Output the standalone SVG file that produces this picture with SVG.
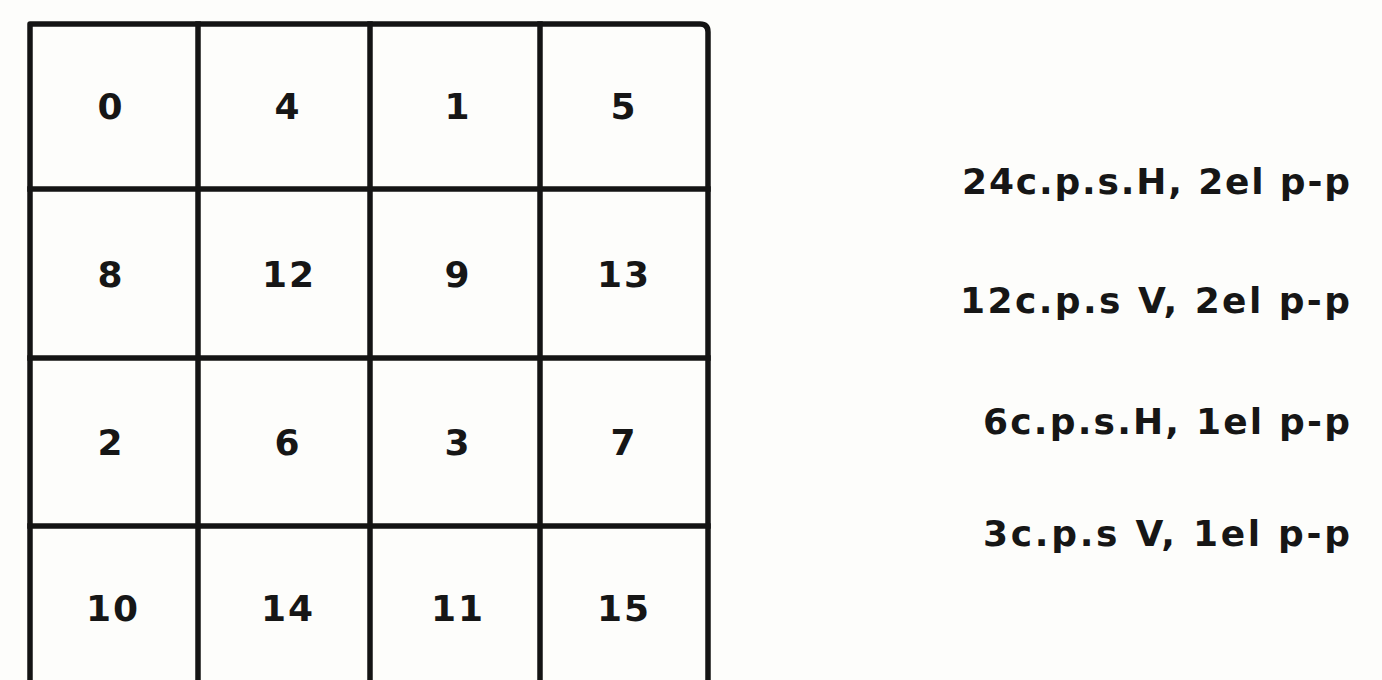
<svg xmlns="http://www.w3.org/2000/svg" width="1382" height="680" viewBox="0 0 1382 680">
<style>
.bg{fill:#fdfdfb}
.ln{fill:none;stroke:#141414;stroke-width:5.5;stroke-linecap:square;stroke-linejoin:round}
.num{font-family:"DejaVu Sans","Liberation Sans",sans-serif;font-weight:bold;font-size:36px;fill:#161616;text-anchor:middle;letter-spacing:2px}
.lbl{font-family:"DejaVu Sans","Liberation Sans",sans-serif;font-weight:bold;font-size:36px;fill:#161616}
</style>
<rect class="bg" x="0" y="0" width="1382" height="680"/>
<g id="connectors">
<path class="ln" d="M30,690 V24 H700 Q708,24 708,32 V690"/>
<path class="ln" d="M198,24 V690 M370,24 V690 M540,24 V690"/>
<path class="ln" d="M30,189 H708 M30,358 H708 M30,526 H708"/>
</g>
<g id="cell-0"><text class="num" x="111" y="119">0</text></g>
<g id="cell-4"><text class="num" x="288" y="119">4</text></g>
<g id="cell-1"><text class="num" x="458" y="119">1</text></g>
<g id="cell-5"><text class="num" x="624" y="119">5</text></g>
<g id="cell-8"><text class="num" x="111" y="287">8</text></g>
<g id="cell-12"><text class="num" x="289" y="287">12</text></g>
<g id="cell-9"><text class="num" x="458" y="287">9</text></g>
<g id="cell-13"><text class="num" x="624" y="287">13</text></g>
<g id="cell-2"><text class="num" x="111" y="455">2</text></g>
<g id="cell-6"><text class="num" x="288" y="455">6</text></g>
<g id="cell-3"><text class="num" x="458" y="455">3</text></g>
<g id="cell-7"><text class="num" x="624" y="455">7</text></g>
<g id="cell-10"><text class="num" x="113" y="621">10</text></g>
<g id="cell-14"><text class="num" x="288" y="621">14</text></g>
<g id="cell-11"><text class="num" x="458" y="621">11</text></g>
<g id="cell-15"><text class="num" x="624" y="621">15</text></g>
<g id="label-1"><text class="lbl" x="962" y="194" textLength="388" lengthAdjust="spacing">24c.p.s.H, 2el p-p</text></g>
<g id="label-2"><text class="lbl" x="960" y="313" textLength="390" lengthAdjust="spacing">12c.p.s V, 2el p-p</text></g>
<g id="label-3"><text class="lbl" x="983" y="434" textLength="367" lengthAdjust="spacing">6c.p.s.H, 1el p-p</text></g>
<g id="label-4"><text class="lbl" x="983" y="546" textLength="367" lengthAdjust="spacing">3c.p.s V, 1el p-p</text></g>
</svg>
